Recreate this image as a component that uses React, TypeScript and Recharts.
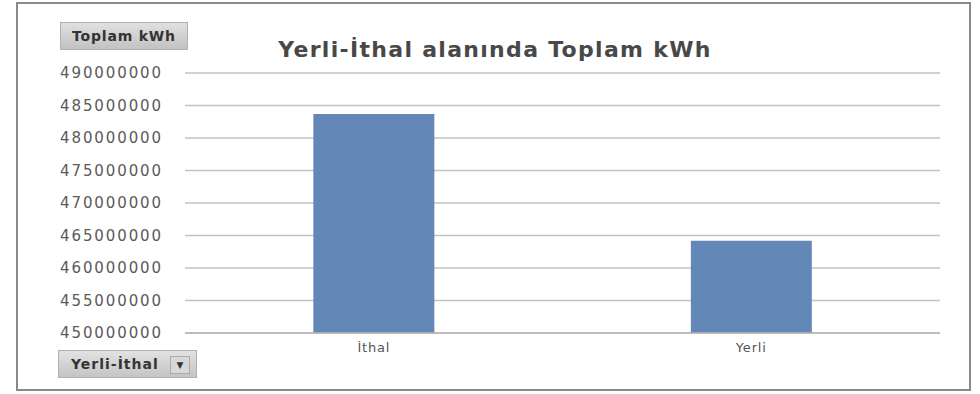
import { BarChart, Bar, XAxis, YAxis, CartesianGrid } from 'recharts';

// Pivot chart: total kWh split by domestic / imported
const categories = ['İthal', 'Yerli'];
const totalKwh = [483700000, 464200000];
const yTicks = [450000000, 455000000, 460000000, 465000000, 470000000, 475000000, 480000000, 485000000, 490000000];

const chartData = categories.map((name, i) => ({ name, total: totalKwh[i] }));

const FONT = '"DejaVu Sans", sans-serif';

export default function App() {
  return (
    <div style={{ position: 'fixed', left: 0, top: 0, width: 980, height: 394, background: '#fff', fontFamily: FONT }}>
      {/* outer frame */}
      <div style={{ position: 'absolute', left: 16, top: 2, width: 955, height: 389, border: '2px solid #8a8a8a', boxSizing: 'border-box' }} />

      <BarChart
        width={980}
        height={394}
        data={chartData}
        margin={{ top: 73, right: 40, bottom: 31, left: 0 }}
        barCategoryGap="34%"
      >
        <CartesianGrid vertical={false} stroke="#c2c2c2" strokeWidth={1.6} />
        <YAxis
          width={185}
          domain={[450000000, 490000000]}
          ticks={yTicks}
          interval={0}
          axisLine={false}
          tickLine={false}
          tickSize={0}
          tickMargin={22}
          tick={{ fontSize: 15, fill: '#5a5a5a', fontFamily: FONT, letterSpacing: 1.9 }}
          tickFormatter={(v) => String(v)}
        />
        <XAxis
          dataKey="name"
          height={30}
          axisLine={{ stroke: '#b5b5b5', strokeWidth: 1.6 }}
          tickLine={false}
          tickSize={0}
          tickMargin={10}
          tick={{ fontSize: 13, fill: '#555', fontFamily: FONT, letterSpacing: 0.8 }}
        />
        <Bar dataKey="total" fill="#6388b8" isAnimationActive={false} />
      </BarChart>

      {/* title */}
      <div style={{ position: 'absolute', left: 260, top: 37, width: 470, textAlign: 'center', fontSize: 22, fontWeight: 'bold', letterSpacing: 1.3, color: '#484848', whiteSpace: 'nowrap' }}>
        Yerli-İthal alanında Toplam kWh
      </div>

      {/* value field button */}
      <div style={{ position: 'absolute', left: 60, top: 22, width: 128, height: 28, background: 'linear-gradient(#e0e0e0, #c2c2c2)', border: '1px solid #b0b0b0', boxSizing: 'border-box', fontSize: 14, fontWeight: 'bold', letterSpacing: 0.8, color: '#333', lineHeight: '26px', textAlign: 'center', whiteSpace: 'nowrap' }}>
        Toplam kWh
      </div>

      {/* axis field button */}
      <div style={{ position: 'absolute', left: 58, top: 350, width: 139, height: 28, background: 'linear-gradient(#e2e2e2, #c4c4c4)', border: '1px solid #b0b0b0', boxSizing: 'border-box', fontSize: 14, color: '#333', lineHeight: '26px', whiteSpace: 'nowrap' }}>
        <span style={{ position: 'absolute', left: 12, fontWeight: 'bold', letterSpacing: 1 }}>Yerli-İthal</span>
        <span style={{ position: 'absolute', right: 6, top: 5, width: 18, height: 16, background: '#d8d8d8', border: '1px solid #aaa', fontSize: 9, lineHeight: '16px', textAlign: 'center' }}>▼</span>
      </div>
    </div>
  );
}
